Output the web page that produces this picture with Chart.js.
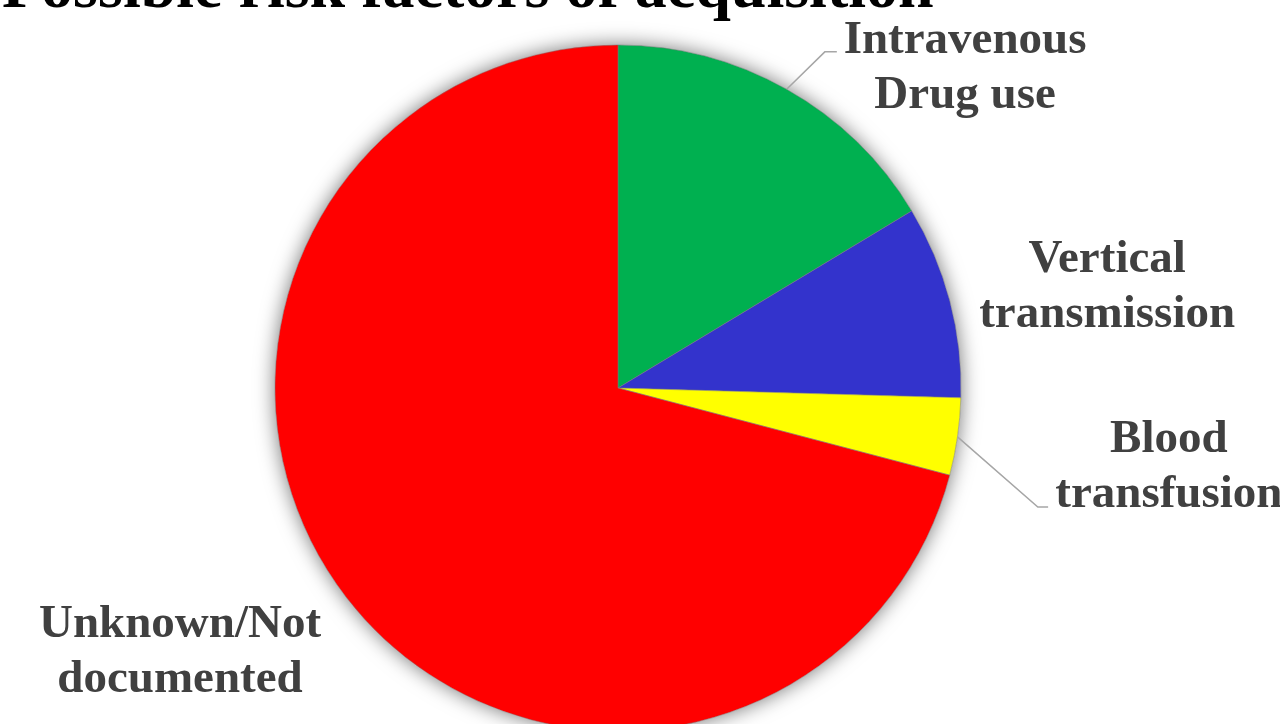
<!DOCTYPE html>
<html>
<head>
<meta charset="utf-8">
<script src="https://cdn.jsdelivr.net/npm/chart.js@4"></script>
<style>
  html, body { margin: 0; padding: 0; background: #fff; overflow: hidden; }
  #wrap { width: 1280px; height: 724px; }
</style>
</head>
<body>
<div id="wrap"><canvas id="chart" width="1280" height="724"></canvas></div>
<script>
'use strict';

const chartTitle = 'Possible risk factors of acquisition';
const categories = ['Intravenous Drug use', 'Vertical transmission', 'Blood transfusion', 'Unknown/Not documented'];
const labelLines = [['Intravenous', 'Drug use'], ['Vertical', 'transmission'], ['Blood', 'transfusion'], ['Unknown/Not', 'documented']];
const patients = [9, 5, 2, 39];
const sliceColors = ['#00b050', '#3333cc', '#ffff00', '#ff0000'];

// label anchors in pie radii from the centre (x = line centre, y = first baseline),
// leader = elbow and end of the callout line
const labelPlacement = [
  { dx: 1.012, dy: -0.977, leader: [[0.603, -0.980], [0.638, -0.980]] },
  { dx: 1.426, dy: -0.338 },
  { dx: 1.606, dy: 0.187, leader: [[1.224, 0.347], [1.254, 0.347]] },
  { dx: -1.277, dy: 0.726 }
];

const labelFont = 'bold 47px "Liberation Serif", "Times New Roman", serif';
const lineGap = 55;

let canvasElem = document.getElementById('chart');

// soft shadow behind the whole pie
const pieShadow = {
  id: 'pieShadow',
  beforeDatasetsDraw(chart) {
    const arc = chart.getDatasetMeta(0).data[0];
    if (!arc) return;
    const ctx = chart.ctx;
    ctx.save();
    ctx.shadowColor = 'rgba(0,0,0,0.55)';
    ctx.shadowBlur = 20;
    ctx.fillStyle = '#fff';
    ctx.beginPath();
    ctx.arc(arc.x, arc.y, arc.outerRadius, 0, Math.PI * 2);
    ctx.fill();
    ctx.restore();
  }
};

// title sits partly above the top edge, so it is drawn by hand
const topTitle = {
  id: 'topTitle',
  afterDraw(chart) {
    const ctx = chart.ctx;
    ctx.save();
    ctx.font = 'bold 64px "Liberation Serif", "Times New Roman", serif';
    ctx.fillStyle = '#000';
    ctx.textAlign = 'left';
    ctx.textBaseline = 'alphabetic';
    ctx.fillText(chartTitle, 2, 7);
    ctx.restore();
  }
};

// category labels with callout lines
const sliceLabels = {
  id: 'sliceLabels',
  afterDatasetsDraw(chart) {
    const ctx = chart.ctx;
    const arcs = chart.getDatasetMeta(0).data;
    arcs.forEach((arc, i) => {
      const r = arc.outerRadius;
      const place = labelPlacement[i];
      if (place.leader) {
        const mid = (arc.startAngle + arc.endAngle) / 2;
        ctx.save();
        ctx.strokeStyle = '#a6a6a6';
        ctx.lineWidth = 1.5;
        ctx.beginPath();
        ctx.moveTo(arc.x + Math.cos(mid) * r, arc.y + Math.sin(mid) * r);
        place.leader.forEach(p => ctx.lineTo(arc.x + p[0] * r, arc.y + p[1] * r));
        ctx.stroke();
        ctx.restore();
      }
      ctx.save();
      ctx.font = labelFont;
      ctx.fillStyle = '#404040';
      ctx.textAlign = 'center';
      ctx.textBaseline = 'alphabetic';
      const x = arc.x + place.dx * r;
      const y = arc.y + place.dy * r;
      labelLines[i].forEach((line, k) => ctx.fillText(line, x, y + k * lineGap));
      ctx.restore();
    });
  }
};

function renderChart() {
  const chartData = {
    labels: categories,
    datasets: [{
      data: patients,
      backgroundColor: sliceColors,
      borderColor: 'rgba(120,120,120,0.5)',
      borderWidth: 1,
      radius: 343,
      clip: false
    }]
  };

  const config = {
    type: 'pie',
    data: chartData,
    options: {
      responsive: false,
      animation: false,
      layout: { padding: { top: 52, bottom: 0, left: 0, right: 44 } },
      plugins: {
        legend: { display: false },
        tooltip: { enabled: false },
        title: { display: false }
      }
    },
    plugins: [pieShadow, sliceLabels, topTitle]
  };

  new Chart(canvasElem, config);
}

renderChart();
</script>
</body>
</html>
